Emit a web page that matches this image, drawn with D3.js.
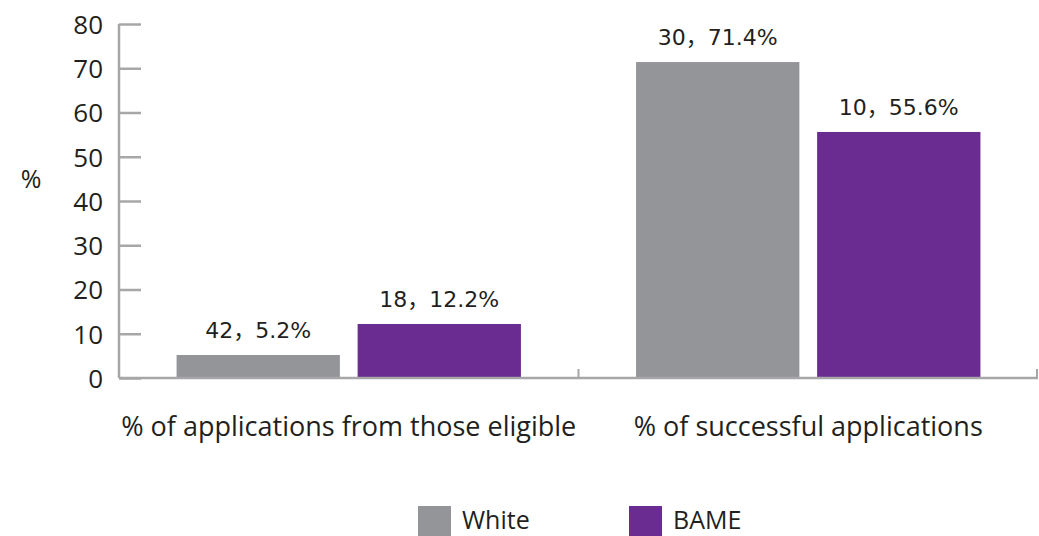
<!DOCTYPE html>
<html>
<head>
<meta charset="utf-8">
<script src="https://cdn.jsdelivr.net/npm/d3@7"></script>
<style>
  html, body { margin: 0; padding: 0; background: #fff; }
  svg { display: block; }
</style>
</head>
<body>
<svg id="chart" width="1039" height="536"></svg>
<script>
// Application rates by ethnicity
const categories = ["% of applications from those eligible", "% of successful applications"];
const seriesNames = ["White", "BAME"];
const whiteValues = [5.2, 71.4];
const bameValues = [12.2, 55.6];
const whiteCounts = [42, 30];
const bameCounts = [18, 10];
const yTicks = [0, 10, 20, 30, 40, 50, 60, 70, 80];

const colors = { White: "#939598", BAME: "#6a2c91" };
const axisColor = "#a7a7a9";
const textColor = "#231f20";
const uiFont = "'Open Sans', Lato, sans-serif";
const labelFont = "'DejaVu Sans', 'Noto Sans CJK SC', sans-serif";

const svg = d3.select("#chart");
const margin = { left: 119, right: 1, top: 24, bottom: 158 };
const W = 1039, H = 536;

const x0 = d3.scaleBand().domain(categories).range([margin.left, W - margin.right]).paddingInner(0).paddingOuter(0);
const x1 = d3.scaleBand().domain(seriesNames).range([0, x0.bandwidth()]).paddingInner(0.098).paddingOuter(0.318);
const y = d3.scaleLinear().domain([0, 80]).range([H - margin.bottom, margin.top]);

const data = categories.map((c, i) => ({
  category: c,
  items: [
    { series: "White", value: whiteValues[i], count: whiteCounts[i] },
    { series: "BAME", value: bameValues[i], count: bameCounts[i] }
  ]
}));

// y axis
const yAxis = svg.append("g").attr("transform", `translate(${margin.left},0)`)
  .call(d3.axisRight(y).tickValues(yTicks).tickSize(22).tickFormat(d3.format("d")));
yAxis.select(".domain").attr("stroke", axisColor).attr("stroke-width", 2.5).attr("d", `M0,${y(80)}V${y(0)}`);
yAxis.selectAll(".tick line").attr("stroke", axisColor).attr("stroke-width", 2.5);
yAxis.selectAll(".tick text")
  .attr("x", -16).attr("text-anchor", "end").attr("dy", "0.36em")
  .attr("fill", textColor).style("font-family", uiFont).style("font-size", "26px");

svg.append("text").attr("x", 31).attr("y", 179).attr("dy", "0.36em").attr("text-anchor", "middle")
  .attr("fill", textColor).style("font-family", uiFont).style("font-size", "25px").text("%");

// bars
const groups = svg.append("g").selectAll("g").data(data).join("g")
  .attr("transform", d => `translate(${x0(d.category)},0)`);

groups.selectAll("rect").data(d => d.items).join("rect")
  .attr("x", d => x1(d.series))
  .attr("width", x1.bandwidth())
  .attr("y", d => y(d.value))
  .attr("height", d => y(0) - y(d.value))
  .attr("fill", d => colors[d.series]);

groups.selectAll("text.val").data(d => d.items).join("text")
  .attr("class", "val")
  .attr("x", d => x1(d.series) + x1.bandwidth() / 2)
  .attr("y", d => y(d.value) - 17)
  .attr("text-anchor", "middle")
  .attr("fill", textColor)
  .style("font-family", labelFont).style("font-size", "22px")
  .text(d => `${d.count}，${d.value.toFixed(1)}%`);

// x axis with category boundary ticks
const xAxis = svg.append("g").attr("transform", `translate(0,${y(0)})`);
xAxis.append("line").attr("x1", margin.left).attr("x2", W - margin.right)
  .attr("stroke", axisColor).attr("stroke-width", 2.5);
const bounds = categories.map(c => x0(c)).concat([x0(categories[categories.length - 1]) + x0.bandwidth()]);
xAxis.selectAll("line.bt").data(bounds.slice(1)).join("line")
  .attr("class", "bt")
  .attr("x1", d => Math.min(d, W - margin.right - 1)).attr("x2", d => Math.min(d, W - margin.right - 1))
  .attr("y1", 0).attr("y2", -9)
  .attr("stroke", axisColor).attr("stroke-width", 2);

xAxis.selectAll("text.cat").data(categories).join("text")
  .attr("class", "cat")
  .attr("x", d => x0(d) + x0.bandwidth() / 2)
  .attr("y", 58)
  .attr("text-anchor", "middle")
  .attr("fill", textColor)
  .style("font-family", uiFont).style("font-size", "27px")
  .text(d => d);

// legend
const legendX = { White: 418, BAME: 629 };
const legend = svg.append("g").selectAll("g").data(seriesNames).join("g")
  .attr("transform", d => `translate(${legendX[d]},506)`);
legend.append("rect").attr("width", 33).attr("height", 30).attr("fill", d => colors[d]);
legend.append("text").attr("x", 44).attr("y", 23)
  .attr("fill", textColor).style("font-family", uiFont).style("font-size", "25px")
  .text(d => d);
</script>
</body>
</html>
